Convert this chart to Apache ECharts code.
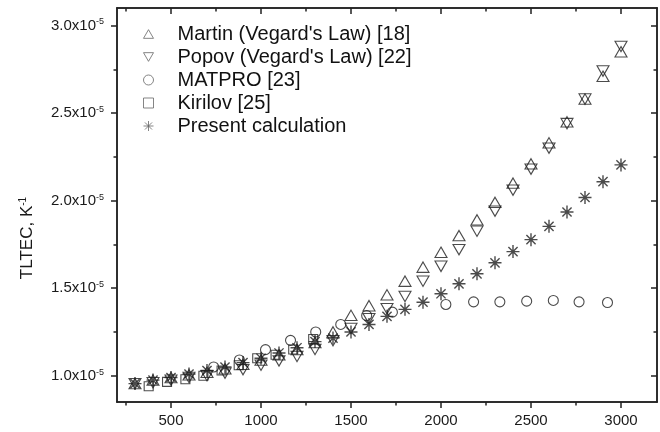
<!DOCTYPE html>
<html><head><meta charset="utf-8">
<script src="https://cdn.jsdelivr.net/npm/echarts@6/dist/echarts.min.js"></script>
<style>html,body{margin:0;padding:0;background:#fff}#c{width:660px;height:432px}</style>
</head><body><div id="c"></div>
<script>
// Values in units of 1e-5 K^-1
var tGrid = [300,400,500,600,700,800,900,1000,1100,1200,1300,1400,1500,1600,1700,1800,1900,2000,2100,2200,2300,2400,2500,2600,2700,2800,2900,3000];
var martin = [0.955,0.975,0.99,1.005,1.02,1.04,1.065,1.09,1.12,1.15,1.19,1.25,1.345,1.40,1.462,1.54,1.62,1.705,1.80,1.89,1.99,2.10,2.21,2.33,2.45,2.58,2.71,2.85];
var popov  = [0.955,0.960,0.975,0.99,1.00,1.015,1.035,1.06,1.085,1.11,1.15,1.20,1.27,1.326,1.383,1.453,1.54,1.625,1.72,1.825,1.94,2.06,2.18,2.30,2.44,2.58,2.74,2.88];
var presentCalc = [0.955,0.975,0.99,1.01,1.03,1.05,1.075,1.10,1.13,1.16,1.195,1.215,1.25,1.293,1.339,1.379,1.42,1.468,1.525,1.582,1.645,1.709,1.777,1.853,1.935,2.018,2.108,2.204];
var matproT = [737,880,1025,1164,1304,1443,1587,1730,2027,2181,2327,2476,2624,2767,2925];
var matpro  = [1.05,1.09,1.149,1.202,1.25,1.293,1.344,1.363,1.407,1.422,1.422,1.426,1.43,1.422,1.418];
var kirilovT = [376,478,580,680,781,876,979,1081,1179,1290];
var kirilov  = [0.94,0.965,0.98,1.00,1.03,1.06,1.10,1.12,1.15,1.21];
var xMajor = [500,1000,1500,2000,2500,3000];
var xMinor = [250,750,1250,1750,2250,2750];
var yMajor = [1.0,1.5,2.0,2.5,3.0];
var yMinor = [1.25,1.75,2.25,2.75];
var names = ["Martin (Vegard's Law) [18]","Popov (Vegard's Law) [22]","MATPRO [23]","Kirilov [25]","Present calculation"];

function pairs(xs, ys){ return xs.map(function(x,i){ return [x, ys[i]]; }); }
var ink = '#1e1e1e';
var axisCol = '#222';
var FF = 'Liberation Sans, Arial, sans-serif';
var downTri = 'path://M0,0L20,0L10,17.32Z';
var upTri = 'path://M10,0L20,17.32L0,17.32Z';
var star = 'path://M10,0L10,20M0,10L20,10M2.93,2.93L17.07,17.07M2.93,17.07L17.07,2.93';

function xAx(pos, vals, len, inside, labels){
  return {type:'value', position:pos, min:200, max:3200, gridIndex:0,
    axisLine:{show:true, onZero:false, lineStyle:{color:axisCol, width:1.5}},
    axisTick:{show:true, customValues: vals, length: len, inside: inside, lineStyle:{color:axisCol, width:1.5}},
    axisLabel:{show:labels, customValues: vals, fontSize:15, color:'#1a1a1a', fontFamily:FF, margin:11,
      formatter:function(v){ return String(v); }},
    splitLine:{show:false}};
}
function yAx(pos, vals, len, inside, labels){
  return {type:'value', position:pos, min:0.85, max:3.1, gridIndex:0,
    axisLine:{show:true, onZero:false, lineStyle:{color:axisCol, width:1.5}},
    axisTick:{show:true, customValues: vals, length: len, inside: inside, lineStyle:{color:axisCol, width:1.5}},
    axisLabel:{show:labels, customValues: vals, color:'#1a1a1a', margin:13,
      formatter: function(v){ return '{a|' + v.toFixed(1) + 'x10}{s|-5}'; },
      rich:{a:{fontSize:15, color:'#1a1a1a', fontFamily:FF}, s:{fontSize:9, color:'#1a1a1a', verticalAlign:'top', padding:[0,0,7,0], fontFamily:FF}}},
    splitLine:{show:false}};
}
var xAxes = [xAx('bottom', xMajor, 6, false, true), xAx('bottom', xMinor, 3.5, false, false), xAx('top', xMajor, 6, true, false), xAx('top', xMinor, 3.5, true, false)];
var yAxes = [yAx('left', yMajor, 6, false, true), yAx('left', yMinor, 3.5, false, false), yAx('right', yMajor, 6, true, false), yAx('right', yMinor, 3.5, true, false)];

function ser(name, data, symbol, size, bw){
  return {name:name, type:'scatter', xAxisIndex:0, yAxisIndex:0, data:data, symbol:symbol, symbolSize:size,
    itemStyle:{color:'rgba(0,0,0,0)', borderColor: ink, borderWidth: bw}, emphasis:{disabled:true}};
}
var legIcon = {color:'rgba(0,0,0,0)', borderColor:'#666', borderWidth:1};
var chart = echarts.init(document.getElementById('c'), null, {renderer:'canvas'});
chart.setOption({
  animation:false,
  grid:{left:117, right:3, top:8, bottom:30},
  xAxis:xAxes, yAxis:yAxes,
  graphic:[{type:'text', x:27, y:238, rotation:Math.PI/2,
    style:{text:'{a|TLTEC, K}{s|-1}', align:'center', verticalAlign:'middle',
      rich:{a:{fontSize:17, fill:'#1a1a1a', fontFamily:FF}, s:{fontSize:10, fill:'#1a1a1a', verticalAlign:'top', padding:[0,0,8,0], fontFamily:FF}}}}],
  legend:{orient:'vertical', left:138, top:19, itemWidth:10, itemHeight:10, itemGap:3,
    textStyle:{fontSize:20, lineHeight:19, color:'#111', fontFamily:FF, padding:[0,0,0,19]},
    data:[
      {name:names[0], icon:upTri, itemStyle:legIcon},
      {name:names[1], icon:downTri, itemStyle:legIcon},
      {name:names[2], icon:'circle', itemStyle:legIcon},
      {name:names[3], icon:'rect', itemStyle:legIcon},
      {name:names[4], icon:star, itemStyle:legIcon}
    ]},
  series:[
    ser(names[0], pairs(tGrid, martin), upTri, [12,10.4], 1.1),
    ser(names[1], pairs(tGrid, popov), downTri, [12,10.4], 1.1),
    ser(names[2], pairs(matproT, matpro), 'circle', 10, 1.1),
    ser(names[3], pairs(kirilovT, kirilov), 'rect', 9, 1.1),
    ser(names[4], pairs(tGrid, presentCalc), star, 13, 1.4)
  ]
});
</script></body></html>
